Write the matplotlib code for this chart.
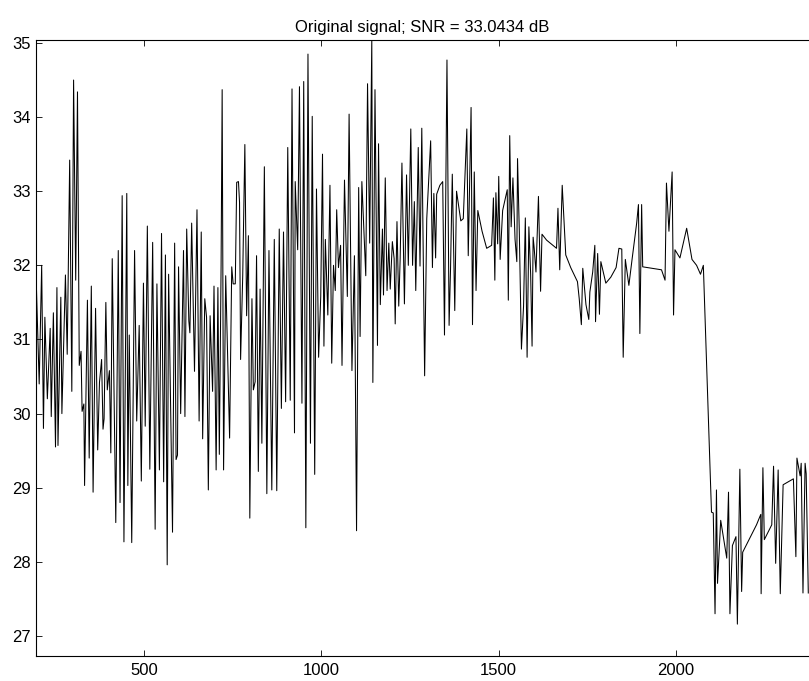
import matplotlib
matplotlib.use('Agg')
import matplotlib.pyplot as plt

# sample position (x) and signal level in dB
sample_pos = [
    195, 204, 211, 216, 220, 227, 235, 238, 244, 250, 254, 257, 265, 268, 278, 283, 290, 296, 301, 307,
    312, 317, 322, 325, 330, 332, 340, 345, 351, 356, 363, 369, 374, 380, 384, 387, 392, 396, 402, 406,
    410, 420, 427, 432, 438, 443, 451, 454, 458, 465, 473, 479, 486, 492, 498, 503, 509, 516, 524, 531,
    536, 543, 549, 555, 560, 565, 569,
    580, 586, 590, 594, 597, 603, 611, 615, 620, 626, 629, 634, 642, 649, 655, 661, 665, 671, 676, 681,
    686, 693, 697, 703, 708, 712, 717, 720, 724, 730, 741, 747, 751, 757, 761, 766, 769, 772, 778, 784,
    789, 794, 798, 804, 808, 813, 817, 822, 827, 832, 839, 846, 852, 860, 867, 874, 881, 887, 893, 899,
    905, 912, 917, 924, 926, 933, 938,
    945, 950, 956, 962, 969, 974, 981, 986, 992, 998, 1003, 1007, 1011, 1018, 1024, 1029, 1034, 1039, 1043, 1048,
    1054, 1058, 1065, 1073, 1078, 1086, 1093, 1099, 1105, 1109, 1114, 1125, 1130, 1136, 1142, 1145, 1151, 1158, 1161, 1166,
    1172, 1175, 1180, 1185, 1190, 1194, 1200, 1205, 1208, 1213, 1218, 1222, 1227, 1234, 1240, 1245, 1252, 1257, 1262, 1266,
    1273, 1278, 1283,
    1291, 1297, 1308, 1313, 1317, 1322, 1325, 1334, 1342, 1347, 1354, 1360, 1364, 1369, 1376, 1381, 1393, 1400, 1410, 1414,
    1422, 1426, 1431, 1436, 1441, 1453, 1466, 1480, 1485, 1489, 1492, 1497, 1500, 1504, 1511, 1524, 1527, 1531, 1535, 1540,
    1546, 1551, 1553, 1558, 1564, 1570, 1575, 1580, 1585, 1590, 1594, 1597, 1600, 1605, 1612, 1618, 1622, 1635, 1663, 1667,
    1672,
    1679, 1689, 1703, 1722, 1727, 1733, 1737, 1746, 1754, 1757, 1765, 1771, 1773, 1779, 1784, 1788, 1802, 1816, 1831, 1839,
    1847, 1851, 1857, 1867, 1876, 1889, 1894, 1898, 1903, 1906, 1959, 1969, 1973, 1980, 1989, 1993, 1997, 2011, 2030, 2045,
    2058, 2069, 2077,
    2100, 2105, 2110, 2114, 2117, 2126, 2136, 2143, 2148, 2152, 2159, 2169, 2173, 2180, 2185, 2188, 2227, 2239, 2240, 2245,
    2249, 2270, 2275, 2281, 2288, 2294, 2302, 2331, 2338, 2341, 2350, 2353, 2358, 2364, 2367, 2373,
]

signal_db = [
    31.9, 30.4, 32.0, 29.8, 31.3, 30.2, 31.15, 29.96, 31.36, 29.55, 31.7, 29.57, 31.57, 30.0, 31.87, 30.8, 33.42, 30.3, 34.5, 31.8,
    34.34, 30.65, 30.84, 30.03, 30.13, 29.03, 31.53, 29.4, 31.72, 28.94, 31.42, 29.51, 30.42, 30.73, 29.79, 29.93, 31.5, 30.32, 30.58, 29.47,
    32.09, 28.53, 32.2, 28.8, 32.94, 28.27, 32.97, 29.03, 31.06, 28.26, 32.2, 29.9, 31.19, 29.09, 31.76, 29.83, 32.53, 29.25, 32.31, 28.44,
    31.75, 29.24, 32.43, 29.08, 32.14, 27.96, 31.88,
    28.4, 32.3, 29.38, 29.44, 31.98, 30.0, 32.2, 29.96, 32.49, 31.25, 31.09, 32.57, 30.57, 32.75, 29.9, 32.45, 29.66, 31.55, 31.3, 28.97,
    31.32, 30.3, 31.72, 29.24, 31.7, 29.45, 32.0, 34.37, 29.24, 31.86, 29.67, 31.98, 31.75, 31.75, 33.12, 33.13, 32.85, 30.73, 31.86, 33.63,
    31.32, 32.4, 28.59, 31.55, 30.32, 30.43, 32.13, 29.22, 31.68, 29.6, 33.33, 28.92, 32.2, 28.97, 32.35, 28.96, 32.49, 30.07, 32.45, 30.16,
    33.59, 30.18, 34.38, 29.74, 33.13, 32.21, 34.41,
    30.14, 34.48, 28.46, 34.85, 29.6, 34.01, 29.18, 33.03, 30.76, 31.58, 33.5, 30.91, 32.35, 31.33, 33.08, 30.68, 32.0, 31.66, 32.75, 31.97,
    32.27, 30.65, 33.15, 31.58, 34.04, 30.58, 32.13, 28.42, 33.05, 31.04, 33.13, 31.86, 34.45, 32.3, 35.04, 30.42, 34.37, 30.92, 33.64, 31.47,
    32.49, 31.6, 33.18, 31.66, 32.3, 31.68, 32.32, 32.09, 31.21, 32.59, 31.45, 32.09, 33.38, 31.48, 33.22, 32.0, 33.84, 32.0, 32.86, 31.66,
    33.59, 31.99, 33.85,
    30.51, 32.63, 33.68, 31.97, 32.97, 32.1, 32.96, 33.08, 33.13, 31.06, 34.77, 31.19, 31.94, 33.23, 31.39, 33.0, 32.6, 32.63, 33.84, 32.13,
    34.13, 31.2, 33.26, 31.66, 32.74, 32.46, 32.23, 32.27, 32.91, 31.8, 32.98, 32.29, 33.2, 32.08, 32.74, 33.02, 31.53, 33.75, 32.52, 33.18,
    32.35, 32.05, 33.44, 32.46, 30.87, 31.45, 32.64, 30.76, 32.52, 31.88, 30.91, 32.38, 32.23, 31.91, 32.93, 31.65, 32.42, 32.34, 32.23, 32.77,
    31.94,
    33.08, 32.14, 31.97, 31.78, 31.55, 31.2, 31.96, 31.47, 31.27, 31.64, 31.91, 32.27, 31.24, 32.16, 31.34, 32.05, 31.76, 31.84, 31.97, 32.23,
    32.22, 30.76, 32.08, 31.73, 32.08, 32.57, 32.82, 31.08, 32.82, 31.98, 31.94, 31.8, 33.11, 32.46, 33.26, 31.33, 32.21, 32.1, 32.5, 32.08,
    32.0, 31.88, 32.0,
    28.67, 28.66, 27.3, 28.97, 27.71, 28.56, 28.26, 28.05, 28.94, 27.3, 28.22, 28.34, 27.16, 29.25, 27.6, 28.13, 28.5, 28.64, 27.57, 29.27,
    28.3, 28.5, 29.29, 27.98, 29.24, 27.57, 29.04, 29.12, 28.07, 29.4, 29.16, 29.33, 27.58, 29.33, 29.19, 27.58,
]

x_ticks = [500, 1000, 1500, 2000]
y_ticks = [27, 28, 29, 30, 31, 32, 33, 34, 35]
snr_value = 33.0434

plt.rcParams['font.family'] = ['Liberation Sans', 'DejaVu Sans']

fig = plt.figure(figsize=(8.09, 6.81), dpi=100)
ax = fig.add_axes([36 / 809, 1 - 656 / 681, 1 - 36 / 809, (656 - 40) / 681])

ax.plot(sample_pos, signal_db, color='black', linewidth=0.75)

ax.set_xlim(195, 2375)
ax.set_ylim(26.73, 35.04)
ax.set_xticks(x_ticks)
ax.set_yticks(y_ticks)
ax.tick_params(direction='in', length=4, width=0.6, labelsize=12, top=True, right=False)
ax.tick_params(axis='x', pad=5)
ax.spines['right'].set_visible(False)
for s in ['left', 'top', 'bottom']:
    ax.spines[s].set_linewidth(0.8)

ax.set_title('Original signal; SNR = ' + str(snr_value) + ' dB', fontsize=12, pad=6)

fig.savefig('out.png', dpi=100)
